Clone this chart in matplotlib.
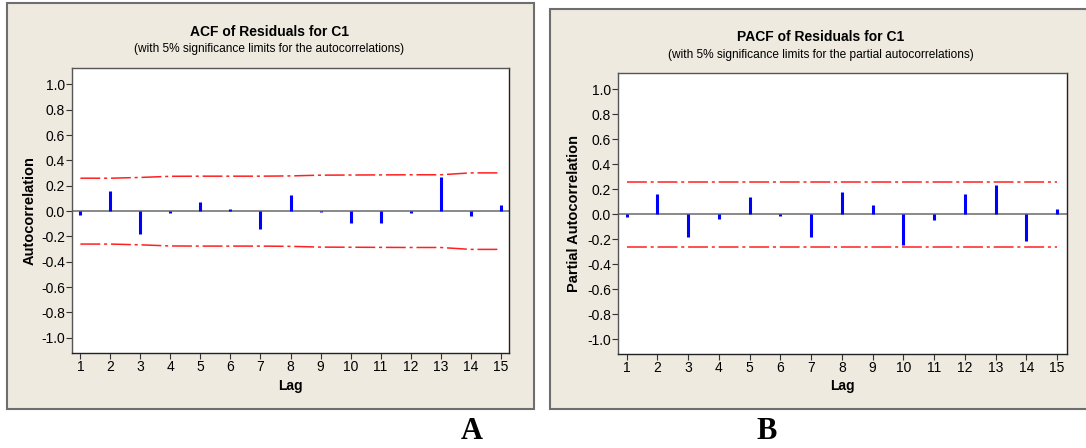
import matplotlib
matplotlib.use("Agg")
import matplotlib.pyplot as plt
from matplotlib.patches import Rectangle

# data
lags = list(range(1, 16))
acf = [-0.03, 0.16, -0.18, -0.013, 0.076, 0.018, -0.14, 0.13, -0.005,
       -0.09, -0.09, -0.015, 0.27, -0.04, 0.045]
acf_limit = [0.26, 0.26, 0.266, 0.275, 0.276, 0.276, 0.276, 0.278, 0.284,
             0.285, 0.286, 0.287, 0.287, 0.302, 0.302]
pacf = [-0.027, 0.163, -0.18, -0.037, 0.136, -0.013, -0.187, 0.18, 0.07,
        -0.25, -0.045, 0.163, 0.23, -0.215, 0.043]
pacf_limit = [0.26] * 15
yticks = [1.0, 0.8, 0.6, 0.4, 0.2, 0.0, -0.2, -0.4, -0.6, -0.8, -1.0]

plt.rcParams['font.family'] = ['Liberation Sans', 'DejaVu Sans']

W, H = 1086, 448
fig = plt.figure(figsize=(W / 100, H / 100), dpi=100)
fig.patch.set_facecolor("white")

bg = "#eeeae0"
frame_col = "#6e6e6e"


def px(x, y):
    return x / W, 1 - y / H


# panel frames (drawn under the axes)
for x0, y0, x1, y1 in [(7, 3, 534, 409), (550, 9, 1095, 409)]:
    fig.patches.append(Rectangle(px(x0, y1), (x1 - x0) / W, (y1 - y0) / H,
                                 transform=fig.transFigure, facecolor=bg,
                                 edgecolor=frame_col, lw=1.5, zorder=-5))


def panel(rect, vals, limits, xlim, ylim, title, subtitle, ylabel,
          tx, ty, sy, yl_x, yl_y, xl_y):
    l, r, t, b = rect
    ax = fig.add_axes([l / W, 1 - b / H, (r - l) / W, (b - t) / H])
    ax.set_zorder(2)
    ax.set_facecolor("white")
    ax.axhline(0, color="#808080", lw=1.3, zorder=1)
    ax.vlines(lags, 0, vals, color="#0000ff", lw=2.2, zorder=3)
    up = [v for v in limits]
    lo = [-v for v in limits]
    for ys in (up, lo):
        ax.plot(lags, ys, color="#ff2020", lw=1.1, dashes=(13, 2.5, 2, 2.5), zorder=2)
    ax.set_xlim(*xlim)
    ax.set_ylim(*ylim)
    ax.set_xticks(lags)
    ax.set_yticks(yticks)
    ax.set_yticklabels([f"{v:.1f}" for v in yticks])
    ax.tick_params(labelsize=10, length=4, width=0.8, color="#333333", pad=1)
    for s in ax.spines.values():
        s.set_linewidth(1.0)
        s.set_color("#222222")
    ax.spines["top"].set_color("#555555")
    ax.spines["left"].set_color("#555555")
    fig.text(tx / W, 1 - ty / H, title, ha="center", va="center",
             fontsize=10, fontweight="bold")
    fig.text(tx / W, 1 - sy / H, subtitle, ha="center", va="center", fontsize=8.6)
    fig.text(yl_x / W, 1 - yl_y / H, ylabel, ha="center", va="center",
             rotation=90, fontsize=10.5, fontweight="bold")
    fig.text(((l + r) / 2) / W, 1 - xl_y / H, "Lag", ha="center", va="center",
             fontsize=10, fontweight="bold")
    return ax


panel((72, 509, 68, 353), acf, acf_limit, (0.72, 15.28), (-1.12, 1.13),
      "ACF of Residuals for C1",
      "(with 5% significance limits for the autocorrelations)",
      "Autocorrelation", 269, 32, 49, 30, 211, 386)

panel((618, 1067, 73, 354), pacf, pacf_limit, (0.72, 15.32), (-1.12, 1.13),
      "PACF of Residuals for C1",
      "(with 5% significance limits for the partial autocorrelations)",
      "Partial Autocorrelation", 821, 37, 55, 574, 213, 386)

fig.text(472 / W, 1 - 431 / H, "A", ha="center", va="center",
         fontsize=22, fontweight="bold", family="Liberation Serif")
fig.text(767 / W, 1 - 431 / H, "B", ha="center", va="center",
         fontsize=22, fontweight="bold", family="Liberation Serif")

fig.savefig("out.png", dpi=100, facecolor="white")
